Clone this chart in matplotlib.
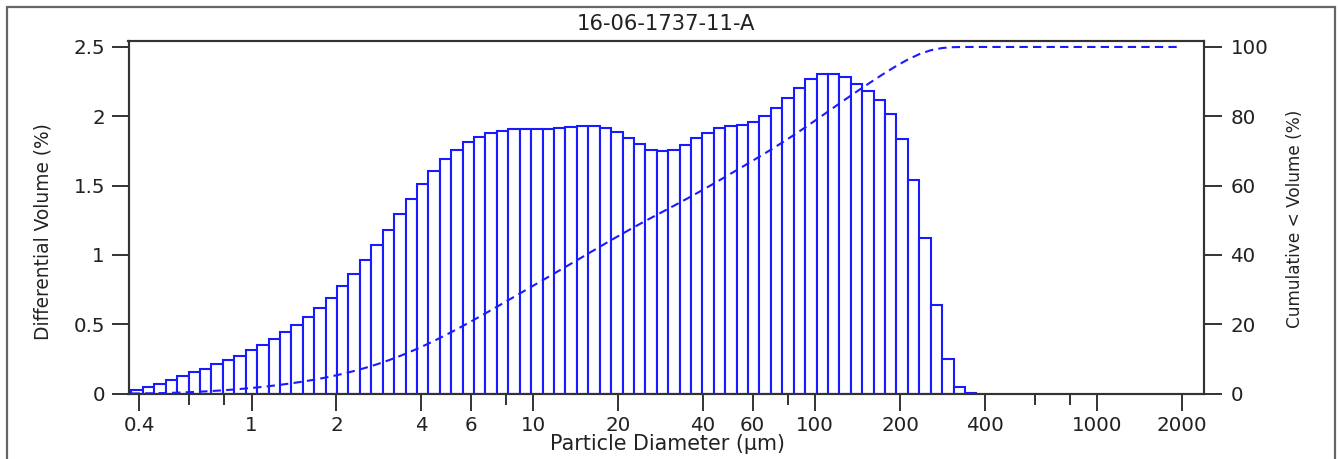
import matplotlib
matplotlib.use("Agg")
import matplotlib.pyplot as plt
import matplotlib.patches as mpatches
from matplotlib.ticker import FixedLocator, NullFormatter, FixedFormatter
import numpy as np

plt.rcParams['font.family'] = ['DejaVu Sans']

# ---- data ----
title = "16-06-1737-11-A"
# instrument channel edges (µm), 92 channels
channel_edges = [
    0.375, 0.412, 0.452, 0.496, 0.545, 0.598, 0.657, 0.721, 0.791, 0.869,
    0.953, 1.047, 1.149, 1.261, 1.385, 1.520, 1.669, 1.832, 2.010, 2.207,
    2.423, 2.660, 2.920, 3.205, 3.519, 3.863, 4.240, 4.655, 5.110, 5.610,
    6.158, 6.760, 7.421, 8.147, 8.943, 9.817, 10.78, 11.83, 12.99, 14.26,
    15.65, 17.18, 18.86, 20.71, 22.73, 24.95, 27.39, 30.07, 33.01, 36.24,
    39.78, 43.67, 47.94, 52.62, 57.77, 63.41, 69.61, 76.42, 83.89, 92.09,
    101.1, 111.0, 121.8, 133.7, 146.8, 161.2, 176.9, 194.2, 213.2, 234.1,
    256.9, 282.1, 309.6, 339.9, 373.1, 409.6, 449.7, 493.6, 541.9, 594.9,
    653.0, 716.9, 786.9, 863.9, 948.3, 1041, 1143, 1255, 1377, 1512,
    1660, 1822, 2000,
]
diff_volume = [
    0.026, 0.048, 0.072, 0.100, 0.127, 0.153, 0.180, 0.210, 0.245, 0.274,
    0.312, 0.350, 0.392, 0.442, 0.492, 0.550, 0.617, 0.690, 0.773, 0.865,
    0.963, 1.069, 1.182, 1.294, 1.405, 1.513, 1.605, 1.691, 1.756, 1.811,
    1.854, 1.880, 1.897, 1.909, 1.911, 1.911, 1.911, 1.916, 1.926, 1.930,
    1.930, 1.916, 1.883, 1.842, 1.797, 1.758, 1.746, 1.755, 1.794, 1.840,
    1.880, 1.914, 1.928, 1.940, 1.960, 2.000, 2.063, 2.130, 2.205, 2.267,
    2.303, 2.308, 2.280, 2.235, 2.180, 2.120, 2.017, 1.837, 1.540, 1.120,
    0.640, 0.252, 0.045, 0.005, 0.0, 0.0, 0.0, 0.0, 0.0, 0.0,
    0.0, 0.0, 0.0, 0.0, 0.0, 0.0, 0.0, 0.0, 0.0, 0.0,
    0.0, 0.0,
]
x_major = [0.4, 1, 2, 4, 6, 10, 20, 40, 60, 100, 200, 400, 1000, 2000]
x_major_labels = ["0.4", "1", "2", "4", "6", "10", "20", "40", "60", "100",
                  "200", "400", "1000", "2000"]
x_minor = [0.6, 0.8, 8, 80, 600, 800]
y_left_ticks = [0, 0.5, 1, 1.5, 2, 2.5]
y_left_labels = ["0", "0.5", "1", "1.5", "2", "2.5"]
y_right_ticks = [0, 20, 40, 60, 80, 100]

# ---- derived ----
edges = np.array(channel_edges)
vals = np.array(diff_volume)
lefts = edges[:-1]
widths = edges[1:] - edges[:-1]
cum = np.concatenate([[0.0], np.cumsum(vals)])
cum = cum / cum[-1] * 100.0

W, H = 1338, 459
fig = plt.figure(figsize=(W / 100, H / 100), dpi=100)
fig.patch.set_facecolor('white')

# outer frame (top, left, right)
frame = mpatches.Rectangle((7 / W, -0.2), (1335 - 7) / W, 1.2 - 6.5 / H,
                           transform=fig.transFigure, fill=False,
                           edgecolor='#666666', linewidth=1.6, clip_on=False)
fig.patches.append(frame)

L, R, T, B = 128.5, 1204, 41, 393.5
ax = fig.add_axes([L / W, 1 - B / H, (R - L) / W, (B - T) / H])
spine_c = '#333333'
txt_c = '#222222'
blue = '#1a1aff'
fs = 14.3

mask = vals > 0
ax.bar(lefts[mask], vals[mask], width=widths[mask], align='edge',
       facecolor='white', edgecolor=blue, linewidth=1.5, zorder=2)

ax.set_xscale('log')
ax.set_xlim(0.366, 2395)
ylim_top = 2.543
ax.set_ylim(0, ylim_top)

ax.xaxis.set_major_locator(FixedLocator(x_major))
ax.xaxis.set_major_formatter(FixedFormatter(x_major_labels))
ax.xaxis.set_minor_locator(FixedLocator(x_minor))
ax.xaxis.set_minor_formatter(NullFormatter())
ax.set_yticks(y_left_ticks)
ax.set_yticklabels(y_left_labels)

for s in ax.spines.values():
    s.set_color(spine_c)
    s.set_linewidth(1.5)
ax.tick_params(axis='both', which='major', length=12, width=1.4,
               color=spine_c, labelsize=fs, labelcolor=txt_c, pad=4)
ax.tick_params(axis='x', which='minor', length=8, width=1.4, color=spine_c)
ax.tick_params(axis='y', which='major', pad=5)

ax2 = ax.twinx()
ax2.set_ylim(0, ylim_top * 40)
ax2.set_yticks(y_right_ticks)
ax2.plot(edges, cum, color=blue, linewidth=1.5, linestyle=(0, (4, 2.5)),
         zorder=3)
for s in ax2.spines.values():
    s.set_color(spine_c)
    s.set_linewidth(1.5)
ax2.tick_params(axis='y', which='major', length=13, width=1.4,
                color=spine_c, labelsize=fs, labelcolor=txt_c, pad=6)

# texts
fig.text(666 / W, 1 - 23.5 / H, title, ha='center', va='center',
         fontsize=15.2, color=txt_c)
fig.text(667 / W, 1 - 450.5 / H, "Particle Diameter (µm)", ha='center',
         va='baseline', fontsize=14.9, color=txt_c)
fig.text(43 / W, 1 - 231.5 / H, "Differential Volume (%)", ha='center',
         va='center', rotation=90, fontsize=13.4, color=txt_c)
fig.text(1295 / W, 1 - 218.5 / H, "Cumulative < Volume (%)", ha='center',
         va='center', rotation=90, fontsize=12.2, color=txt_c)

fig.savefig("out.png", dpi=100, facecolor='white')
